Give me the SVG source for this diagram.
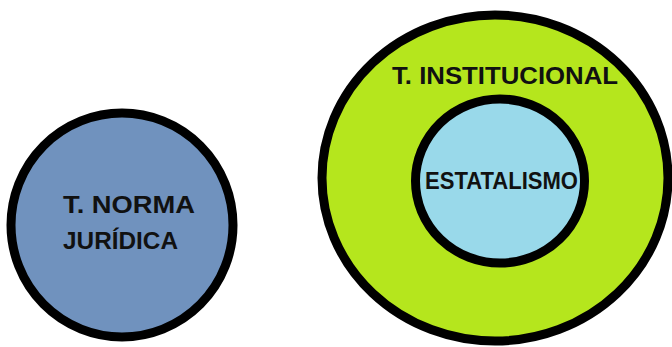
<svg xmlns="http://www.w3.org/2000/svg" width="672" height="347" viewBox="0 0 672 347">
<style>
.c{stroke:#000;stroke-width:9}
.t{font-family:"Liberation Sans",Arial,sans-serif;font-weight:700;font-size:24px;fill:#111}
</style>
<rect width="672" height="347" fill="#fff"/>
<g id="norma">
<ellipse class="c" cx="122" cy="225" rx="111" ry="112" fill="#7092BE"/>
<text class="t" x="63" y="213" textLength="132" lengthAdjust="spacingAndGlyphs">T. NORMA</text>
<text class="t" x="63" y="249" textLength="115" lengthAdjust="spacingAndGlyphs">JURÍDICA</text>
</g>
<g id="institucional">
<ellipse class="c" cx="495" cy="178" rx="173" ry="163" fill="#B5E61D"/>
<text class="t" x="392" y="84" textLength="226" lengthAdjust="spacingAndGlyphs">T. INSTITUCIONAL</text>
</g>
<g id="estatalismo">
<ellipse class="c" cx="500" cy="181" rx="84.5" ry="82" fill="#99D9EA" stroke-width="8"/>
<text class="t" x="425" y="189" textLength="153" lengthAdjust="spacingAndGlyphs">ESTATALISMO</text>
</g>
<g id="connectors"/>
</svg>
